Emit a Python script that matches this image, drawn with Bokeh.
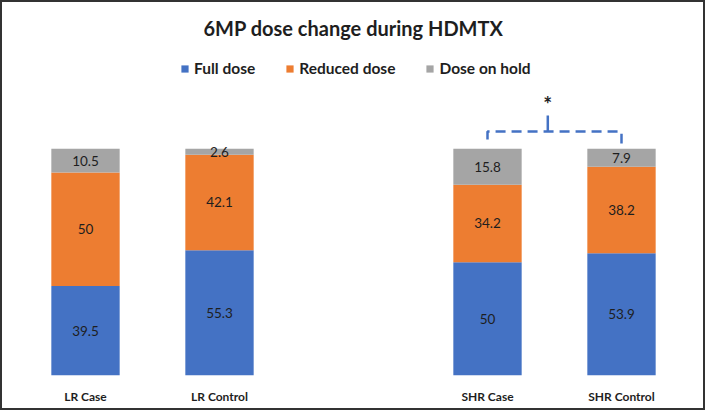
from bokeh.plotting import figure
from bokeh.models import FactorRange, Range1d, ColumnDataSource, Legend, LegendItem, LabelSet
from bokeh.transform import dodge
from bokeh.core.properties import value
from bokeh.embed import file_html
from bokeh.resources import INLINE

# ---- data ----
categories = ["LR Case", "LR Control", "SHR Case", "SHR Control"]
axis_factors = ["LR Case", "LR Control", " ", "SHR Case", "SHR Control"]
full_dose = [39.5, 55.3, 50.0, 53.9]
reduced_dose = [50.0, 42.1, 34.2, 38.2]
dose_on_hold = [10.5, 2.6, 15.8, 7.9]
series_names = ["Full dose", "Reduced dose", "Dose on hold"]
series_keys = ["full", "reduced", "hold"]
colors = ["#4472C4", "#ED7D31", "#A5A5A5"]

# significance bracket (between SHR Case and SHR Control)
sig_pair = ["SHR Case", "SHR Control"]
sig_bracket_y = 107.6
sig_left_foot_y = 104.1
sig_right_foot_y = 102.3
sig_tick_top_y = 114.7
sig_star_y = 120.0
sig_mark = "*"

FONT = "Lato"
TXT = "#1e1e1e"

src = ColumnDataSource(dict(cat=categories, full=full_dose, reduced=reduced_dose, hold=dose_on_hold))

p = figure(
    x_range=FactorRange(factors=axis_factors, range_padding=0),
    y_range=Range1d(0, 146.9),
    width=705, height=410,
    min_border_left=16, min_border_right=19, min_border_top=40, min_border_bottom=37,
    output_backend="svg", toolbar_location=None,
    title="6MP dose change during HDMTX",
    styles={"border": "2px solid #333333"},
)
p.title.align = "center"
p.title.text_font = FONT
p.title.text_font_size = "20px"
p.title.text_font_style = "bold"
p.title.text_color = TXT
p.title.standoff = 5

renderers = p.vbar_stack(series_keys, x="cat", width=0.51, source=src,
                         fill_color=colors, line_color=None)

# segment value labels
lab_x, lab_y, lab_t = [], [], []
for i, c in enumerate(categories):
    bottom = 0.0
    for vals in (full_dose, reduced_dose, dose_on_hold):
        v = vals[i]
        lab_x.append(c)
        lab_y.append(bottom + v / 2.0)
        lab_t.append(f"{v:g}")
        bottom += v
lab_src = ColumnDataSource(dict(x=lab_x, y=lab_y, t=lab_t))
p.add_layout(LabelSet(x="x", y="y", text="t", source=lab_src, text_align="center",
                      text_baseline="middle", text_font=value(FONT), text_font_size="13.5px",
                      text_color=TXT))

# significance bracket
br_src = ColumnDataSource(dict(
    x=[sig_pair[0], sig_pair[0], sig_pair[1], sig_pair[1]],
    y=[sig_left_foot_y, sig_bracket_y, sig_bracket_y, sig_right_foot_y]))
p.line(x="x", y="y", source=br_src, line_color="#4472C4", line_width=2.5, line_dash="10 6")
tick_src = ColumnDataSource(dict(x=[sig_pair[0], sig_pair[0]], y=[sig_bracket_y, sig_tick_top_y]))
p.line(x=dodge("x", 0.45, range=p.x_range), y="y", source=tick_src,
       line_color="#4472C4", line_width=2.5)
star_src = ColumnDataSource(dict(x=[sig_pair[0]], y=[sig_star_y], t=[sig_mark]))
p.text(x=dodge("x", 0.45, range=p.x_range), y="y", text="t", source=star_src,
       text_align="center", text_baseline="middle", text_font=value(FONT),
       text_font_size="21px", text_font_style="bold", text_color=TXT)

# legend
legend = Legend(items=[LegendItem(label=n, renderers=[r]) for n, r in zip(series_names, renderers)],
                orientation="horizontal", location=(162, 298),
                glyph_width=9, glyph_height=9, label_height=14, label_standoff=5, spacing=30,
                padding=0, margin=0, border_line_color=None, background_fill_alpha=0,
                label_text_font=FONT, label_text_font_size="15.5px", label_text_font_style="bold",
                label_text_color=TXT)
p.add_layout(legend)

p.yaxis.visible = False
p.xgrid.grid_line_color = None
p.ygrid.grid_line_color = None
p.outline_line_color = None
p.xaxis.axis_line_color = None
p.xaxis.major_tick_line_color = None
p.xaxis.minor_tick_line_color = None
p.xaxis.major_label_standoff = 7
p.xaxis.major_label_text_font = FONT
p.xaxis.major_label_text_font_size = "12px"
p.xaxis.major_label_text_font_style = "bold"
p.xaxis.major_label_text_color = TXT

open("out.html", "w").write(file_html(p, INLINE))
